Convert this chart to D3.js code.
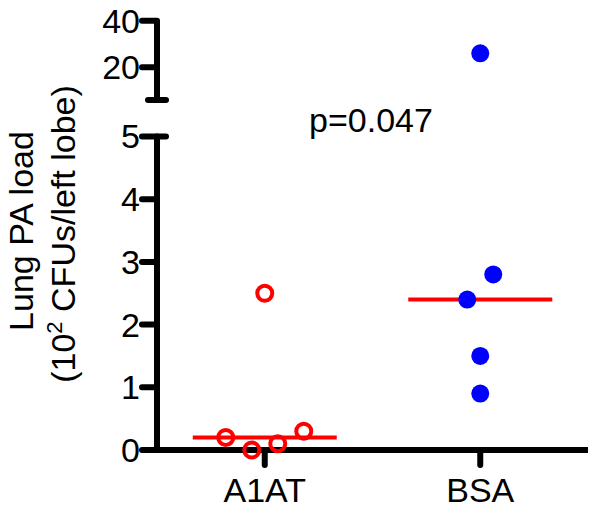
<!DOCTYPE html>
<html>
<head>
<meta charset="utf-8">
<script src="https://cdn.jsdelivr.net/npm/d3@7"></script>
<style>
  html, body { margin: 0; padding: 0; background: #fff; }
  svg { display: block; font-family: "Liberation Sans", Arial, sans-serif; }
</style>
</head>
<body>
<svg id="chart" width="600" height="514"></svg>
<script>
// ---- data ----
const categories = ["A1AT", "BSA"];
const a1atValues = [0.2, 0, 0.1, 0.3, 2.5];
const bsaValues = [26, 2.4, 2.8, 1.5, 0.9];
const medians = [0.2, 2.4];
const lowerTicks = [0, 1, 2, 3, 4, 5];
const upperTicks = [20, 40];
const pLabel = "p=0.047";
const yLabelLine1 = "Lung PA load";

// ---- layout ----
const svg = d3.select("#chart");
const axisX = 157, axisY = 450, axisRight = 588;
const FS = 34;

const x = d3.scalePoint().domain(categories).range([axisX, axisRight]).padding(0.5);
const yLow = d3.scaleLinear().domain([0, 5]).range([axisY, 136.5]);
const yTop = d3.scaleLinear().domain([6, 40]).range([100, 20.7]);
const yAny = v => v > 5 ? yTop(v) : yLow(v);

const black = "#000";
const aw = 6;

// lower y axis segment
svg.append("line").attr("x1", axisX).attr("x2", axisX)
  .attr("y1", yLow(5)).attr("y2", axisY)
  .attr("stroke", black).attr("stroke-width", aw);
// break cap at 5
svg.append("line").attr("x1", axisX).attr("x2", axisX + 9)
  .attr("y1", yLow(5)).attr("y2", yLow(5))
  .attr("stroke", black).attr("stroke-width", aw).attr("stroke-linecap", "round");
// upper y axis segment
svg.append("line").attr("x1", axisX).attr("x2", axisX)
  .attr("y1", yTop(40)).attr("y2", yTop(6))
  .attr("stroke", black).attr("stroke-width", aw);
svg.append("line").attr("x1", axisX - 9).attr("x2", axisX + 9)
  .attr("y1", yTop(6)).attr("y2", yTop(6))
  .attr("stroke", black).attr("stroke-width", aw).attr("stroke-linecap", "round");

// y ticks
function yTicks(scale, ticks) {
  const g = svg.append("g");
  g.selectAll("line").data(ticks).join("line")
    .attr("x1", axisX - 15).attr("x2", axisX)
    .attr("y1", d => scale(d)).attr("y2", d => scale(d))
    .attr("stroke", black).attr("stroke-width", aw).attr("stroke-linecap", "round");
  g.selectAll("text").data(ticks).join("text")
    .attr("x", axisX - 17).attr("y", d => scale(d))
    .attr("dy", "0.35em").attr("text-anchor", "end")
    .attr("font-size", FS).text(d => d);
}
yTicks(yLow, lowerTicks);
yTicks(yTop, upperTicks);

// x axis
svg.append("line").attr("x1", axisX - 14).attr("x2", axisRight)
  .attr("y1", axisY).attr("y2", axisY)
  .attr("stroke", black).attr("stroke-width", aw);
const xg = svg.append("g");
xg.selectAll("line").data(categories).join("line")
  .attr("x1", d => x(d)).attr("x2", d => x(d))
  .attr("y1", axisY).attr("y2", axisY + 15)
  .attr("stroke", black).attr("stroke-width", aw).attr("stroke-linecap", "round");
xg.selectAll("text").data(categories).join("text")
  .attr("x", d => x(d)).attr("y", 502)
  .attr("text-anchor", "middle").attr("font-size", FS).text(d => d);

// y label
const yl = svg.append("text").attr("transform", "translate(33,231) rotate(-90)")
  .attr("text-anchor", "middle").attr("font-size", FS);
yl.append("tspan").attr("x", 0).attr("y", 0).text(yLabelLine1);
const yl2 = svg.append("text").attr("transform", "translate(75,234) rotate(-90)")
  .attr("text-anchor", "middle").attr("font-size", FS);
yl2.append("tspan").text("(10");
yl2.append("tspan").attr("font-size", 22).attr("dy", -13).text("2");
yl2.append("tspan").attr("dy", 13).text(" CFUs/left lobe)");

// p value
svg.append("text").attr("x", 371).attr("y", 132).attr("text-anchor", "middle")
  .attr("font-size", FS).text(pLabel);

// dodge points
const spacing = 26, clusterGap = 30;
function dodge(values, cat) {
  const pts = values.map((v, i) => ({ v, i, y: yAny(v) }));
  const sorted = pts.slice().sort((a, b) => a.y - b.y);
  const clusters = [];
  sorted.forEach(p => {
    const last = clusters[clusters.length - 1];
    if (last && p.y - last[last.length - 1].y < clusterGap) last.push(p);
    else clusters.push([p]);
  });
  clusters.forEach(c => {
    c.sort((a, b) => a.i - b.i);
    c.forEach((p, k) => { p.x = x(cat) + (k - (c.length - 1) / 2) * spacing; });
  });
  return pts;
}

// medians
svg.selectAll("line.median").data(categories).join("line")
  .attr("class", "median")
  .attr("x1", d => x(d) - 72).attr("x2", d => x(d) + 72)
  .attr("y1", (d, i) => yAny(medians[i])).attr("y2", (d, i) => yAny(medians[i]))
  .attr("stroke", "#ff0000").attr("stroke-width", 4);

svg.append("g").selectAll("circle").data(dodge(a1atValues, "A1AT")).join("circle")
  .attr("cx", d => d.x).attr("cy", d => d.y).attr("r", 7.5)
  .attr("fill", "none").attr("stroke", "#ff0000").attr("stroke-width", 4);

svg.append("g").selectAll("circle").data(dodge(bsaValues, "BSA")).join("circle")
  .attr("cx", d => d.x).attr("cy", d => d.y).attr("r", 9)
  .attr("fill", "#0000ff");
</script>
</body>
</html>
